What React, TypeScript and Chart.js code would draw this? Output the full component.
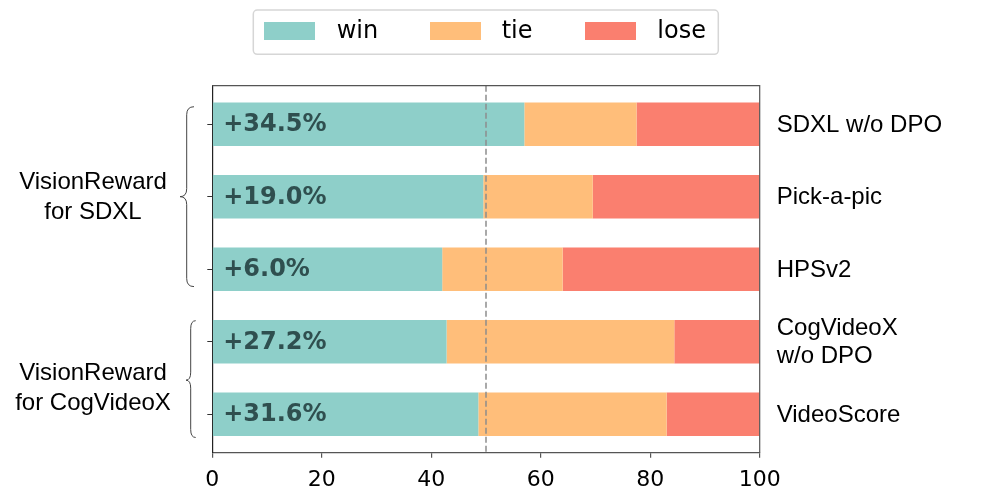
import React, { useEffect, useRef } from "react";
import { Chart, registerables } from "chart.js";

Chart.register(...registerables);

const categories = ["SDXL w/o DPO", "Pick-a-pic", "HPSv2", "CogVideoX\nw/o DPO", "VideoScore"];
const winValues = [57.0, 49.5, 42.0, 42.8, 48.6];
const tieValues = [20.5, 20.0, 22.0, 41.6, 34.4];
const loseValues = [22.5, 30.5, 36.0, 15.6, 17.0];
const improvementLabels = ["+34.5%", "+19.0%", "+6.0%", "+27.2%", "+31.6%"];
const seriesNames = ["win", "tie", "lose"];
const seriesColors = ["#8ECFC9", "#FFBE7A", "#FA7F6F"];
const groupLabels = [
  ["VisionReward", "for SDXL"],
  ["VisionReward", "for CogVideoX"],
];
const xTickValues = [0, 20, 40, 60, 80, 100];
const referenceLine = 50;

// layout constants (positions in y-data units / pixels)
const groupLabelY = [1.0, 3.63];
const braceSpec = [
  { top: -0.24, bottom: 2.24, tip: 1.0, xv: 186.7, xtip: 180, xend: 194 },
  { top: 2.71, bottom: 4.32, tip: 3.53, xv: 190.7, xtip: 186, xend: 195.7 },
];

const SANS = '"Liberation Sans", Arial, Helvetica, sans-serif';
const DEJAVU = '"DejaVu Sans", sans-serif';

const overlayPlugin = {
  id: "overlay",
  afterDatasetsDraw(chart: any) {
    const { ctx, chartArea } = chart;
    const xs = chart.scales.x;
    const ys = chart.scales.y;
    ctx.save();
    // dashed reference line
    ctx.strokeStyle = "rgba(140,140,140,0.75)";
    ctx.lineWidth = 2;
    ctx.setLineDash([6, 3]);
    const xr = xs.getPixelForValue(referenceLine);
    ctx.beginPath();
    ctx.moveTo(xr, chartArea.top);
    ctx.lineTo(xr, chartArea.bottom);
    ctx.stroke();
    ctx.setLineDash([]);

    // top & right spines
    ctx.strokeStyle = "#555";
    ctx.lineWidth = 1.2;
    ctx.beginPath();
    ctx.moveTo(chartArea.left, chartArea.top);
    ctx.lineTo(chartArea.right, chartArea.top);
    ctx.lineTo(chartArea.right, chartArea.bottom);
    ctx.stroke();

    // improvement labels
    ctx.fillStyle = "#2F4F4F";
    ctx.font = `bold 24px ${DEJAVU}`;
    ctx.textAlign = "left";
    ctx.textBaseline = "middle";
    improvementLabels.forEach((t, i) => {
      ctx.fillText(t, xs.getPixelForValue(2), ys.getPixelForValue(i) + 1);
    });

    // right labels
    ctx.fillStyle = "#000";
    ctx.font = `24px ${SANS}`;
    categories.forEach((c, i) => {
      const lines = c.split("\n");
      const cy = ys.getPixelForValue(i);
      const lh = 28;
      lines.forEach((ln, k) => {
        const y = cy + (k - (lines.length - 1) / 2) * lh;
        ctx.fillText(ln, chartArea.right + 17, y + 1);
      });
    });

    // left group labels
    ctx.textAlign = "center";
    groupLabels.forEach((g, gi) => {
      const cy = ys.getPixelForValue(groupLabelY[gi]);
      const lh = 30;
      g.forEach((ln, k) => {
        const y = cy + (k - (g.length - 1) / 2) * lh;
        ctx.fillText(ln, 93, y + 1);
      });
    });

    // braces
    ctx.strokeStyle = "#444";
    ctx.lineWidth = 1;
    braceSpec.forEach((b) => {
      const yt = ys.getPixelForValue(b.top);
      const yb = ys.getPixelForValue(b.bottom);
      const ym = ys.getPixelForValue(b.tip);
      const r = 8;
      ctx.beginPath();
      ctx.moveTo(b.xend, yt);
      ctx.quadraticCurveTo(b.xv, yt, b.xv, yt + r);
      ctx.lineTo(b.xv, ym - r);
      ctx.quadraticCurveTo(b.xv, ym, b.xtip, ym);
      ctx.quadraticCurveTo(b.xv, ym, b.xv, ym + r);
      ctx.lineTo(b.xv, yb - r);
      ctx.quadraticCurveTo(b.xv, yb, b.xend, yb);
      ctx.stroke();
    });

    // legend
    const lx = 253.3, ly = 10, lw = 465, lhh = 44.3;
    ctx.fillStyle = "#fff";
    ctx.strokeStyle = "#d6d6d6";
    ctx.lineWidth = 1.5;
    ctx.beginPath();
    (ctx as any).roundRect(lx, ly, lw, lhh, 4);
    ctx.fill();
    ctx.stroke();
    const patchX = [264, 430, 585];
    const textX = [336.7, 501.7, 657.3];
    ctx.font = `24px ${DEJAVU}`;
    ctx.textAlign = "left";
    ctx.textBaseline = "middle";
    seriesNames.forEach((n, i) => {
      ctx.fillStyle = seriesColors[i];
      ctx.fillRect(patchX[i], 22, 51, 18);
      ctx.fillStyle = "#000";
      ctx.fillText(n, textX[i], 32);
    });
    ctx.restore();
  },
};

export default function App() {
  const ref = useRef<HTMLCanvasElement | null>(null);
  useEffect(() => {
    if (!ref.current) return;
    const valueSets = [winValues, tieValues, loseValues];
    const chart = new Chart(ref.current, {
      type: "bar",
      data: {
        datasets: seriesNames.map((n, si) => ({
          label: n,
          data: valueSets[si].map((v, i) => ({ x: v, y: i })),
          backgroundColor: seriesColors[si],
          borderWidth: 0,
          categoryPercentage: 1,
          barPercentage: 0.6,
        })),
      } as any,
      options: {
        animation: false,
        responsive: true,
        maintainAspectRatio: false,
        indexAxis: "y",
        layout: { padding: { left: 0, right: 236.3, top: 85.7, bottom: 0 } },
        plugins: { legend: { display: false }, tooltip: { enabled: false } },
        scales: {
          x: {
            type: "linear",
            stacked: true,
            min: 0,
            max: 100,
            offset: false,
            afterBuildTicks: (axis: any) => {
              axis.ticks = xTickValues.map((v) => ({ value: v }));
            },
            afterFit: (axis: any) => {
              axis.height = 46.3;
            },
            ticks: {
              color: "#000",
              font: { family: DEJAVU, size: 22 },
              padding: 9,
              maxRotation: 0,
            },
            grid: {
              offset: false,
              drawOnChartArea: false,
              drawTicks: true,
              tickLength: 5,
              color: "#555",
              lineWidth: 1.2,
            },
            border: { display: true, color: "#555", width: 1.2 },
          },
          y: {
            type: "linear",
            stacked: true,
            reverse: true,
            offset: false,
            min: -0.53,
            max: 4.53,
            afterBuildTicks: (axis: any) => {
              axis.ticks = categories.map((_, i) => ({ value: i }));
            },
            afterFit: (axis: any) => {
              axis.width = 212.3;
            },
            ticks: { display: false },
            grid: {
              offset: false,
              drawOnChartArea: false,
              drawTicks: true,
              tickLength: 5,
              color: "#333",
              lineWidth: 1,
            },
            border: { display: true, color: "#222", width: 1.2 },
          },
        },
      } as any,
      plugins: [overlayPlugin],
    });
    return () => chart.destroy();
  }, []);
  return (
    <div style={{ position: "absolute", left: 0, top: 0, width: 996, height: 499 }}>
      <canvas ref={ref} />
    </div>
  );
}
